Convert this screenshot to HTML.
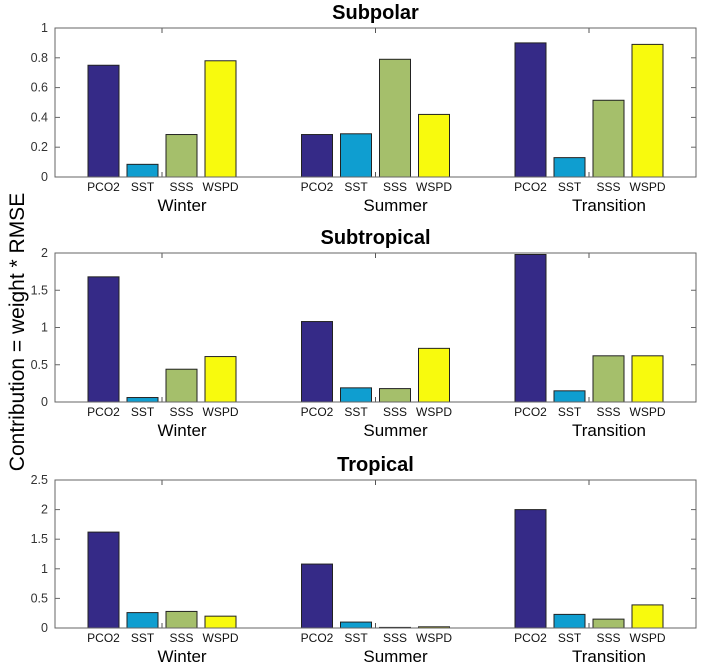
<!DOCTYPE html>
<html><head><meta charset="utf-8"><style>
body{margin:0;background:#fff;width:709px;height:662px;overflow:hidden}
svg{display:block;font-family:"Liberation Sans",Arial,sans-serif}
</style></head><body>
<svg id="chart" width="709" height="662"></svg>
<script>
const regions = ["Subpolar","Subtropical","Tropical"];
const seasons = ["Winter","Summer","Transition"];
const variables = ["PCO2","SST","SSS","WSPD"];
const subpolarValues = [[0.75,0.085,0.285,0.78],[0.285,0.29,0.79,0.42],[0.9,0.13,0.515,0.89]];
const subtropicalValues = [[1.68,0.06,0.44,0.61],[1.08,0.19,0.18,0.72],[1.98,0.15,0.62,0.62]];
const tropicalValues = [[1.62,0.26,0.28,0.2],[1.08,0.1,0.01,0.02],[2.0,0.23,0.15,0.39]];
const yMaxes = [1,2,2.5];
const yTicks1 = [0,0.2,0.4,0.6,0.8,1];
const yTicks2 = [0,0.5,1,1.5,2];
const yTicks3 = [0,0.5,1,1.5,2,2.5];

const NS="http://www.w3.org/2000/svg";
const svg=document.getElementById('chart');
const colors=["#352a87","#0f9ed0","#a5bf6b","#f8fa0d"];
const X0=55,X1=696;
const tops=[28,253,480],bots=[177,402,628];
const groupCenters=[162,375.5,589];
function mk(t,a,p){const e=document.createElementNS(NS,t);for(const k in a)e.setAttribute(k,a[k]);(p||svg).appendChild(e);return e;}
function fmt(v){return String(+v.toFixed(2));}
const allVals=[subpolarValues,subtropicalValues,tropicalValues];
const allTicks=[yTicks1,yTicks2,yTicks3];
for(let p=0;p<3;p++){
  const top=tops[p],bot=bots[p],ymax=yMaxes[p];
  const y=v=>bot-(v/ymax)*(bot-top);
  const g=mk('g',{});
  
  
  const t=mk('text',{x:(X0+X1)/2,y:top-9,'text-anchor':'middle','font-size':20,'font-weight':'bold',fill:'#000'},g);
  t.textContent=regions[p];
  
  
  for(let s=0;s<3;s++){
    for(let i=0;i<4;i++){
      const v=allVals[p][s][i];
      const bx=groupCenters[s]+(i-1.5)*39-15.5;
      const r=mk('rect',{x:bx,y:y(v),width:31,height:bot-y(v),fill:colors[i],stroke:'#222','stroke-width':1},g);
      
      
      const lt=mk('text',{x:bx+15.5,y:bot+14,'text-anchor':'middle','font-size':12,fill:'#111'},g);
      lt.textContent=variables[i];
      
      
    }
    const sl=mk('text',{x:groupCenters[s]+20,y:bot+34,'text-anchor':'middle','font-size':17,fill:'#000'},g);
    sl.textContent=seasons[s];
    
    
    mk('line',{x1:groupCenters[s],x2:groupCenters[s],y1:bot,y2:bot-5,stroke:'#555'},g);
    mk('line',{x1:groupCenters[s],x2:groupCenters[s],y1:top,y2:top+5,stroke:'#555'},g);
  }
  const box=mk('rect',{x:X0,y:top,width:X1-X0,height:bot-top,fill:'none',stroke:'#666','stroke-width':1},g);
  
  
  for(const tv of allTicks[p]){
    const ty=y(tv);
    mk('line',{x1:X0,x2:X0+5,y1:ty,y2:ty,stroke:'#666'},g);
    mk('line',{x1:X1,x2:X1-5,y1:ty,y2:ty,stroke:'#666'},g);
    const tl=mk('text',{x:X0-7,y:ty+4,'text-anchor':'end','font-size':12.5,fill:'#333'},g);
    tl.textContent=fmt(tv);
    
    
  }
}
const yt=mk('text',{x:0,y:0,'text-anchor':'middle','font-size':21,fill:'#000',transform:'translate(24,332) rotate(-90)'});
yt.textContent='Contribution = weight * RMSE';


</script>
</body></html>
